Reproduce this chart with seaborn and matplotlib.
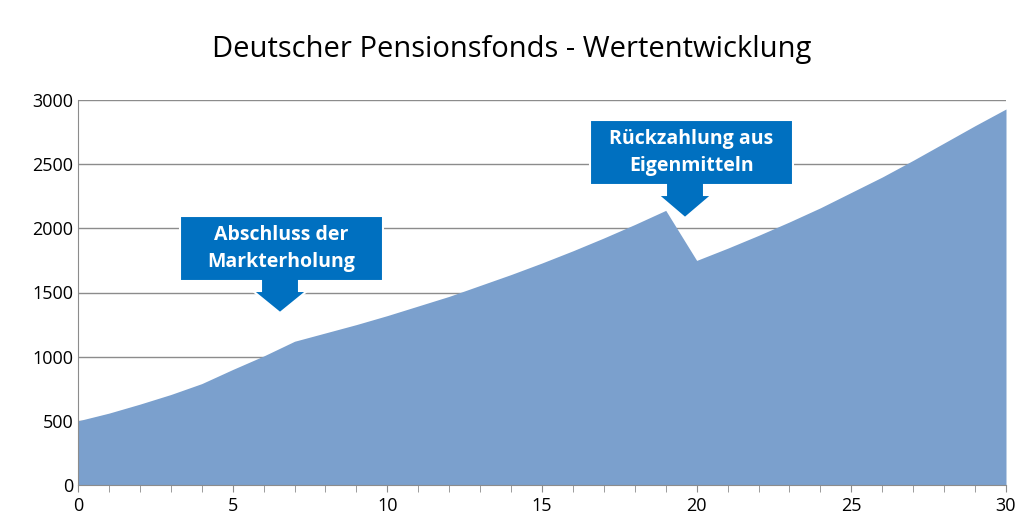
import matplotlib
matplotlib.use('Agg')
import matplotlib.pyplot as plt
import seaborn as sns
from matplotlib.patches import Polygon

years = list(range(31))
werte = [500, 560, 630, 705, 790, 900, 1005, 1120, 1185, 1250, 1320, 1395, 1470, 1555,
         1640, 1730, 1825, 1925, 2030, 2140, 1750, 1845, 1945, 2050, 2160, 2280, 2400,
         2530, 2665, 2800, 2930]
y_ticks = [0, 500, 1000, 1500, 2000, 2500, 3000]
x_ticks = [0, 5, 10, 15, 20, 25, 30]

plt.rcParams['font.family'] = 'Open Sans'
W, H = 1024, 532
fig = plt.figure(figsize=(W / 100, H / 100), dpi=100)
ax = fig.add_axes([78 / W, 1 - 485 / H, (1006 - 78) / W, (485 - 100) / H])

sns.lineplot(x=years, y=werte, ax=ax, color='#7BA0CD', linewidth=0)
ax.fill_between(years, werte, color='#7BA0CD', linewidth=0, zorder=2)
ax.set_xlim(0, 30)
ax.set_ylim(0, 3000)
ax.set_xticks(x_ticks)
ax.set_xticks(years, minor=True)
ax.set_yticks(y_ticks)
ax.grid(axis='y', color='#8C8C8C', linewidth=1, zorder=1)
ax.set_axisbelow(True)
for s in ['top', 'right']:
    ax.spines[s].set_visible(False)
for s in ['left', 'bottom']:
    ax.spines[s].set_color('#8C8C8C')
ax.tick_params(axis='both', labelsize=13, color='#8C8C8C', length=5)
ax.tick_params(axis='x', which='minor', length=5, color='#8C8C8C')
ax.tick_params(axis='y', length=0)

fig.text(0.5, 1 - 50 / H, 'Deutscher Pensionsfonds - Wertentwicklung', ha='center', va='center', fontsize=21)

def p(x, y):
    return (x / W, 1 - y / H)

def callout(x0, x1, y0, y1, tipx, tipy, text):
    cx = (x0 + x1) / 2 if tipx is None else tipx
    pts = [(x0, y0), (x1, y0), (x1, y1), (cx + 19, y1), (cx + 19, y1 + 10), (cx + 27, y1 + 10),
           (cx, tipy), (cx - 27, y1 + 10), (cx - 19, y1 + 10), (cx - 19, y1), (x0, y1)]
    fig.patches.append(Polygon([p(*q) for q in pts], closed=True, transform=fig.transFigure,
                               facecolor='#0070C0', edgecolor='white', linewidth=1.5, zorder=5))
    fig.text(*p((x0 + x1) / 2, (y0 + y1) / 2), text, ha='center', va='center', color='white',
             fontsize=14, fontweight='bold', linespacing=1.5, zorder=6)

callout(180, 383, 216, 281, 280, 313, 'Abschluss der\nMarkterholung')
callout(590, 793, 120, 185, 685, 218, 'Rückzahlung aus\nEigenmitteln')

fig.savefig('out.png', dpi=100)
